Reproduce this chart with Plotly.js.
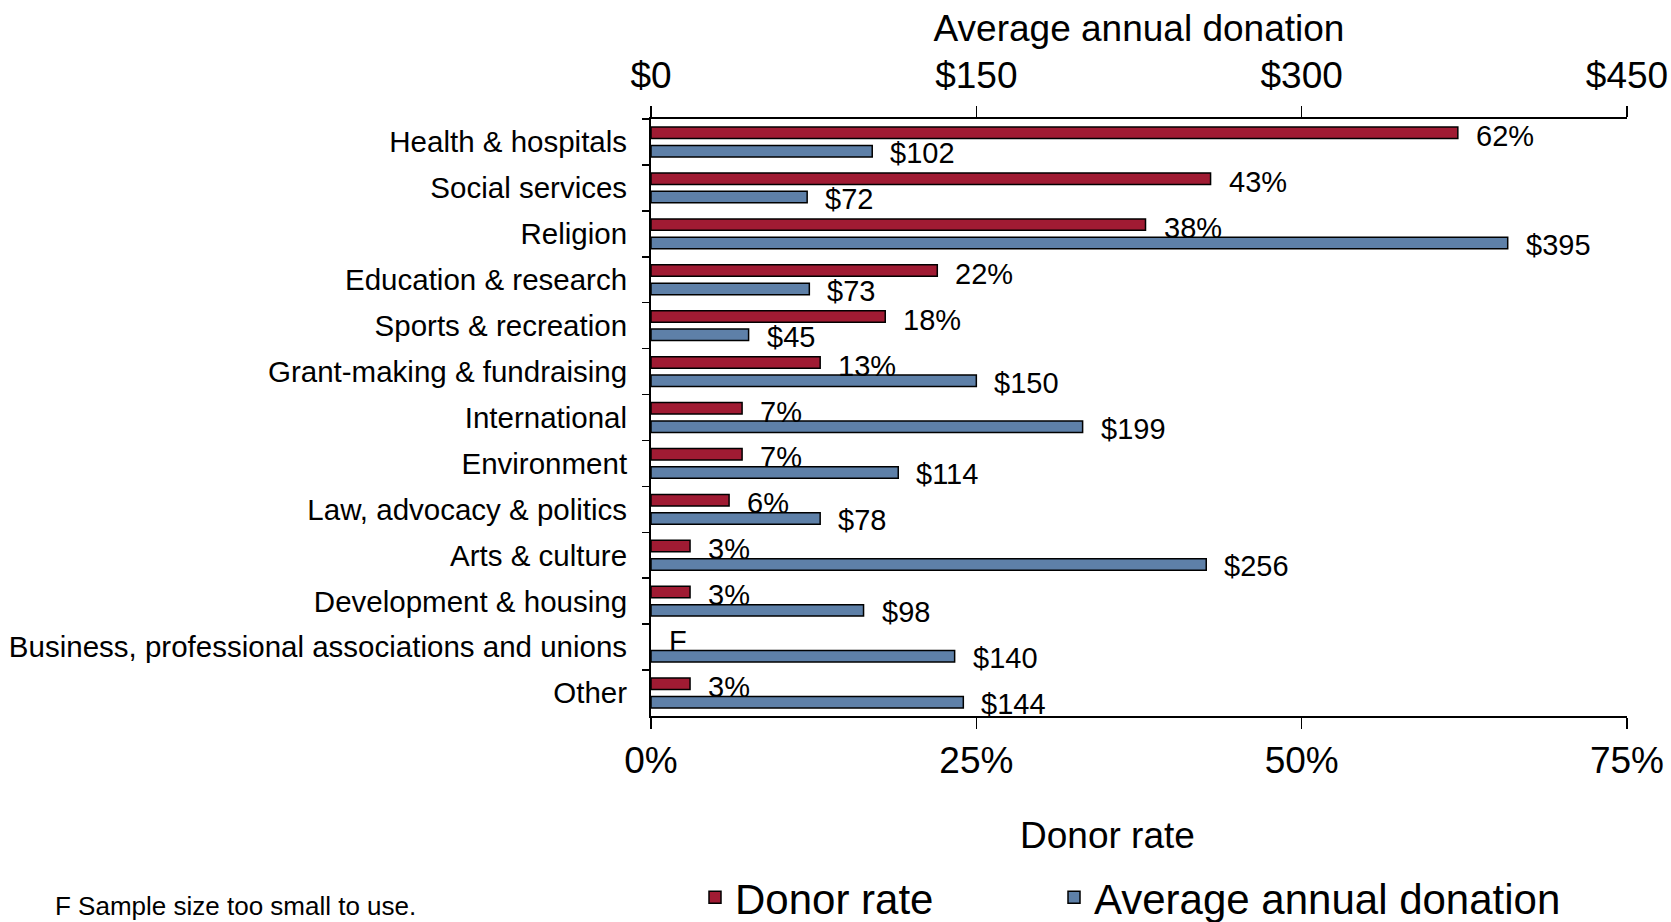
<!DOCTYPE html>
<html>
<head>
<meta charset="utf-8">
<script src="https://cdn.plot.ly/plotly-3.0.1.min.js"></script>
<style>html,body{margin:0;padding:0;background:#fff;}#chart{width:1671px;height:922px;}</style>
</head>
<body>
<div id="chart"></div>
<script>
var categories = ["Health & hospitals","Social services","Religion","Education & research","Sports & recreation","Grant-making & fundraising","International","Environment","Law, advocacy & politics","Arts & culture","Development & housing","Business, professional associations and unions","Other"];
var donorRate = [0.62,0.43,0.38,0.22,0.18,0.13,0.07,0.07,0.06,0.03,0.03,null,0.03];
var avgDonation = [102,72,395,73,45,150,199,114,78,256,98,140,144];
var rateTicks = [0,0.25,0.5,0.75];
var rateTickText = ["0%","25%","50%","75%"];
var donTicks = [0,150,300,450];
var donTickText = ["$0","$150","$300","$450"];

var FONT = "Liberation Sans, Arial, sans-serif";
var RED = "#A01B33", BLUE = "#5E80A8";

var traces = [
  {type:"bar", orientation:"h", name:"Donor rate", x:donorRate, y:categories, xaxis:"x", yaxis:"y",
   width:0.25, offset:-0.325, marker:{color:RED, line:{color:"#000", width:1.5}}, hoverinfo:"x+y", legend:"legend"},
  {type:"bar", orientation:"h", name:"Average annual donation", x:avgDonation, y:categories, xaxis:"x2", yaxis:"y",
   width:0.25, offset:0.075, marker:{color:BLUE, line:{color:"#000", width:1.5}}, hoverinfo:"x+y", legend:"legend2"}
];

var annotations = [];
for (var i = 0; i < categories.length; i++) {
  var r = donorRate[i];
  annotations.push({xref:"x", yref:"y", x:(r===null?0:r), y:categories[i], text:(r===null?"F":Math.round(r*100)+"%"),
    showarrow:false, xanchor:"left", yanchor:"middle", xshift:16, yshift:6, font:{family:FONT, size:29, color:"#000"}});
  annotations.push({xref:"x2", yref:"y", x:avgDonation[i], y:categories[i], text:"$"+avgDonation[i],
    showarrow:false, xanchor:"left", yanchor:"middle", xshift:16, yshift:-11, font:{family:FONT, size:29, color:"#000"}});
}
annotations.push({xref:"paper", yref:"paper", x:-0.613, y:-0.318, xanchor:"left", yanchor:"middle",
  text:"F Sample size too small to use.", showarrow:false, font:{family:FONT, size:26, color:"#000"}});
annotations.push({xref:"paper", yref:"paper", x:0.468, y:-0.2007, xanchor:"center", yanchor:"middle",
  text:"Donor rate", showarrow:false, font:{family:FONT, size:37, color:"#000"}});

var layout = {
  width:1671, height:922,
  margin:{l:651, r:44, t:119, b:206, autoexpand:false},
  paper_bgcolor:"#fff", plot_bgcolor:"#fff",
  font:{family:FONT, color:"#000"},
  barmode:"overlay",
  showlegend:true,
  xaxis:{range:[0,0.75], tickvals:rateTicks, ticktext:rateTickText, ticks:"outside", ticklen:11, tickwidth:1.5, tickcolor:"#000",
    showline:true, linecolor:"#000", linewidth:2, showgrid:false, zeroline:false, fixedrange:true,
    tickfont:{family:FONT, size:37, color:"#000"}},
  xaxis2:{range:[0,450], overlaying:"x", side:"top", tickvals:donTicks, ticktext:donTickText, ticks:"outside", ticklen:11, tickwidth:1.5, tickcolor:"#000",
    showline:true, linecolor:"#000", linewidth:2, showgrid:false, zeroline:false, fixedrange:true,
    ticklabelstandoff:3,
    tickfont:{family:FONT, size:37, color:"#000"},
    title:{text:"Average annual donation", font:{family:FONT, size:37, color:"#000"}, standoff:2}},
  yaxis:{type:"category", categoryorder:"array", categoryarray:categories, range:[categories.length-0.5,-0.5],
    tickson:"boundaries", ticks:"outside", ticklen:7, tickwidth:1.5, tickcolor:"#000",
    showline:true, linecolor:"#000", linewidth:2, showgrid:false, zeroline:false, fixedrange:true,
    ticklabelstandoff:16,
    tickfont:{family:FONT, size:29.5, color:"#000"}},
  legend:{orientation:"h", x:(695-651)/976, xanchor:"left", y:-0.304, yanchor:"middle",
    font:{family:FONT, size:42, color:"#000"}, bgcolor:"rgba(0,0,0,0)"},
  legend2:{orientation:"h", x:(1054-651)/976, xanchor:"left", y:-0.304, yanchor:"middle",
    font:{family:FONT, size:42, color:"#000"}, bgcolor:"rgba(0,0,0,0)"},
  annotations:annotations
};

Plotly.newPlot("chart", traces, layout, {displayModeBar:false, staticPlot:true});
</script>
</body>
</html>
